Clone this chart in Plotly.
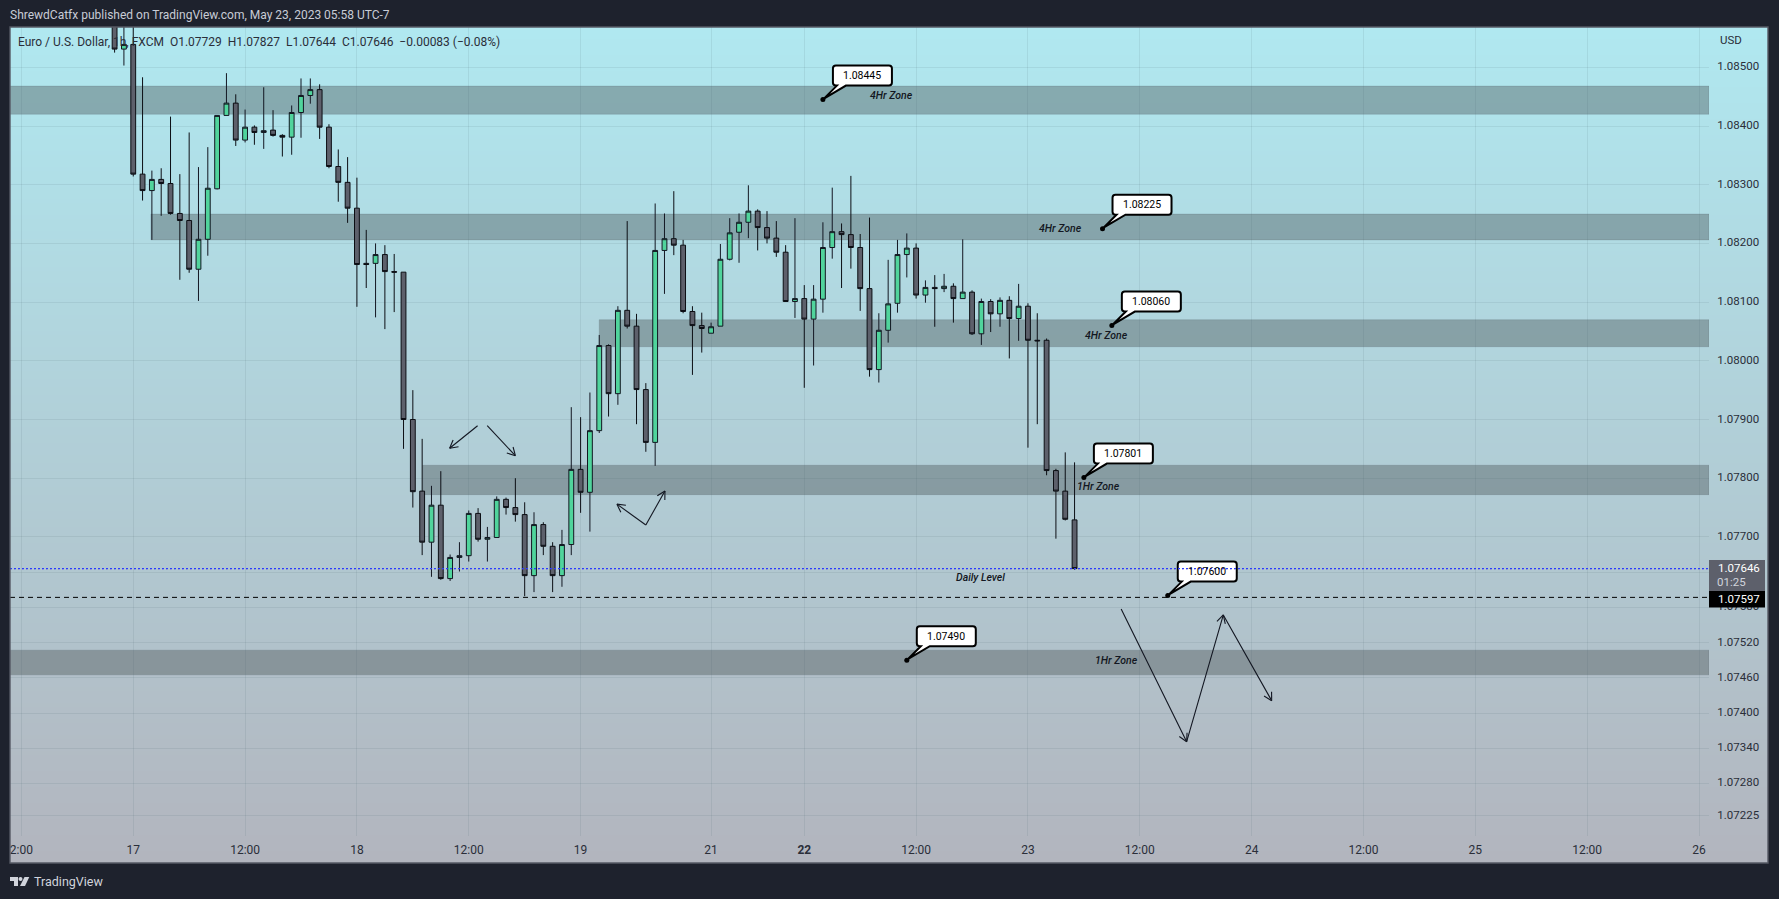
import math
import plotly.graph_objects as go

# ---------------- data (hourly EUR/USD bars) ----------------
bar_index = list(range(10, 114))
open_ = [1.08590,1.08531,1.08539,1.08318,1.08290,1.08309,1.08302,1.08251,1.08239,1.08156,1.08207,1.08293,1.08418,1.08439,1.08376,1.08398,1.08389,1.08393,1.08384,1.08381,
         1.08423,1.08452,1.08462,1.08398,1.08331,1.08304,1.08260,1.08166,1.08166,1.08181,1.08152,1.08151,1.07900,1.07778,1.07691,1.07754,1.07629,1.07665,1.07668,1.07740,
         1.07696,1.07699,1.07764,1.07750,1.07738,1.07634,1.07721,1.07684,1.07634,1.07687,1.07815,1.07776,1.07881,1.08026,1.07944,1.08086,1.08059,1.07951,1.07861,1.08188,
         1.08208,1.08197,1.08084,1.08060,1.08047,1.08059,1.08173,1.08219,1.08236,1.08255,1.08227,1.08209,1.08185,1.08101,1.08106,1.08071,1.08105,1.08193,1.08220,1.08215,
         1.08193,1.08123,1.07985,1.08052,1.08098,1.08181,1.08192,1.08112,1.08125,1.08123,1.08127,1.08106,1.08117,1.08046,1.08101,1.08080,1.08103,1.08072,1.08093,1.08035,
         1.08035,1.07813,1.07778,1.07729]
high = [1.08620,1.08590,1.08570,1.08483,1.08324,1.08328,1.08416,1.08318,1.08389,1.08330,1.08364,1.08418,1.08490,1.08454,1.08428,1.08401,1.08466,1.08427,1.08386,1.08435,
        1.08481,1.08481,1.08471,1.08403,1.08360,1.08347,1.08312,1.08223,1.08200,1.08197,1.08182,1.08151,1.07950,1.07867,1.07787,1.07812,1.07670,1.07691,1.07745,1.07749,
        1.07717,1.07769,1.07767,1.07800,1.07759,1.07742,1.07725,1.07691,1.07712,1.07921,1.07904,1.07946,1.08044,1.08028,1.08093,1.08238,1.08080,1.07962,1.08268,1.08251,
        1.08289,1.08206,1.08093,1.08082,1.08065,1.08199,1.08243,1.08251,1.08299,1.08258,1.08255,1.08238,1.08197,1.08243,1.08129,1.08129,1.08236,1.08295,1.08234,1.08315,
        1.08216,1.08244,1.08081,1.08172,1.08206,1.08217,1.08200,1.08137,1.08146,1.08148,1.08132,1.08207,1.08120,1.08106,1.08105,1.08108,1.08110,1.08131,1.08098,1.08081,
        1.08038,1.07816,1.07844,1.07827]
low = [1.08525,1.08503,1.08314,1.08273,1.08206,1.08247,1.08249,1.08138,1.08150,1.08102,1.08179,1.08292,1.08418,1.08366,1.08372,1.08368,1.08361,1.08382,1.08348,1.08351,
       1.08380,1.08438,1.08378,1.08328,1.08271,1.08235,1.08092,1.08124,1.08074,1.08054,1.08083,1.07850,1.07750,1.07669,1.07632,1.07627,1.07625,1.07641,1.07658,1.07692,
       1.07658,1.07699,1.07738,1.07726,1.07599,1.07606,1.07669,1.07606,1.07615,1.07669,1.07741,1.07709,1.07877,1.07905,1.07925,1.08055,1.07892,1.07845,1.07821,1.08114,
       1.08180,1.08081,1.07976,1.08014,1.08047,1.08059,1.08171,1.08167,1.08209,1.08188,1.08200,1.08177,1.08101,1.08073,1.07954,1.07992,1.08082,1.08174,1.08124,1.08157,
       1.08085,1.07973,1.07963,1.08031,1.08082,1.08142,1.08106,1.08099,1.08058,1.08117,1.08065,1.08106,1.08044,1.08027,1.08049,1.08058,1.08004,1.08034,1.07852,1.07892,
       1.07805,1.07697,1.07728,1.07644]
close = [1.08531,1.08539,1.08318,1.08290,1.08309,1.08302,1.08251,1.08239,1.08156,1.08207,1.08294,1.08418,1.08439,1.08376,1.08398,1.08389,1.08392,1.08384,1.08381,1.08423,
         1.08452,1.08462,1.08398,1.08331,1.08304,1.08260,1.08164,1.08164,1.08181,1.08152,1.08151,1.07900,1.07777,1.07691,1.07754,1.07629,1.07665,1.07668,1.07740,1.07696,
         1.07699,1.07764,1.07750,1.07738,1.07634,1.07721,1.07684,1.07634,1.07687,1.07815,1.07776,1.07881,1.08026,1.07944,1.08086,1.08059,1.07951,1.07861,1.08188,1.08208,
         1.08197,1.08084,1.08060,1.08055,1.08058,1.08173,1.08218,1.08236,1.08255,1.08227,1.08209,1.08185,1.08101,1.08106,1.08071,1.08105,1.08193,1.08220,1.08215,1.08193,
         1.08123,1.07985,1.08052,1.08097,1.08181,1.08192,1.08112,1.08125,1.08123,1.08127,1.08106,1.08117,1.08046,1.08101,1.08080,1.08103,1.08072,1.08093,1.08035,1.08034,
         1.07813,1.07778,1.07730,1.07646]

time_ticks = [0, 12, 24, 36, 48, 60, 74, 84, 96, 108, 120, 132, 144, 156, 168, 180]
time_labels = ["2:00", "17", "12:00", "18", "12:00", "19", "21", "<b>22</b>", "12:00", "23", "12:00", "24", "12:00", "25", "12:00", "26"]
price_ticks = [1.085, 1.084, 1.083, 1.082, 1.081, 1.080, 1.079, 1.078, 1.077, 1.0764, 1.0758, 1.0752, 1.0746, 1.0740, 1.0734, 1.0728, 1.07225]

zone_start = [-2, 13.9, 62.0, 43.05, -2]
zone_top = [1.08468, 1.08250, 1.08070, 1.07822, 1.07507]
zone_bottom = [1.08420, 1.08206, 1.08024, 1.07772, 1.07465]

zone_text = ["4Hr Zone", "4Hr Zone", "4Hr Zone", "1Hr Zone", "Daily Level", "1Hr Zone"]
zone_text_x = [93.4, 111.44, 116.48, 115.62, 102.96, 117.5]
zone_text_y = [1.084523, 1.082257, 1.080428, 1.077855, 1.076305, 1.074891]

callout_text = ["1.08445", "1.08225", "1.08060", "1.07801", "1.07600", "1.07490"]
callout_x = [86, 116, 117, 114, 123, 95]
callout_y = [1.08445, 1.08225, 1.08060, 1.07801, 1.07600, 1.07490]

arrow_paths = [
    ([48.95, 45.95], [1.078894, 1.07851]),
    ([49.98, 53.0], [1.078894, 1.078383]),
    ([67.0, 63.9], [1.077203, 1.077558]),
    ([67.0, 69.05], [1.077203, 1.077782]),
    ([118.0, 125.03, 128.96, 134.15], [1.075772, 1.073511, 1.07567, 1.07421]),
]
last_price = 1.07646
level_price = 1.07597

# ---------------- geometry ----------------
W, H = 1779, 899
L, R, T, B = 10, 70, 27, 63
BAR_PX = 9.32
PRICE_PX = 58700.0
x_range = [(L - 21.4) / BAR_PX, (W - R - 21.4) / BAR_PX]
y_range = [1.085 - (H - B - 67.3) / PRICE_PX, 1.085 - (T - 67.3) / PRICE_PX]

def PX(px):
    return (px - L) / (W - L - R)

def PY(py):
    return (H - B - py) / (H - T - B)

INK = "#131722"
TXT = "#2a2e39"
DARK = "#1e222d"
FONT = "Roboto"
shapes, notes = [], []

# gradient pane background
STRIPS = 209
c0, c1 = (176, 232, 240), (178, 181, 190)
for i in range(STRIPS):
    f = i / (STRIPS - 1)
    col = tuple(round(a + (b - a) * f) for a, b in zip(c0, c1))
    y0 = 27 + (863 - 27) * i / STRIPS
    y1 = 27 + (863 - 27) * (i + 1) / STRIPS + 1
    shapes.append(dict(type="rect", xref="paper", yref="paper", layer="below",
                       x0=PX(10), x1=PX(1768), y0=PY(min(y1, 863)), y1=PY(y0),
                       fillcolor="rgb(%d,%d,%d)" % col, line=dict(width=0)))

# zones
for xs, top, bot in zip(zone_start, zone_top, zone_bottom):
    shapes.append(dict(type="rect", xref="x", yref="y", layer="below",
                       x0=xs, x1=x_range[1], y0=bot, y1=top,
                       fillcolor="rgba(73,82,84,0.40)",
                       line=dict(color="rgba(70,85,90,0.18)", width=1)))

# callout boxes
for cx, cy in zip(callout_x, callout_y):
    shapes.append(dict(type="path", layer="above", xref="x", yref="y",
                       xsizemode="pixel", ysizemode="pixel", xanchor=cx, yanchor=cy,
                       path="M 13 14 L 14 14 L 1 1 L 23 14 L 66 14 Q 69 14 69 17 L 69 31 Q 69 34 66 34 "
                            "L 13 34 Q 10 34 10 31 L 10 17 Q 10 14 13 14 Z",
                       fillcolor="#ffffff", line=dict(color="#000000", width=2)))

# price lines
shapes.append(dict(type="line", layer="above", xref="x", yref="y", x0=x_range[0], x1=x_range[1],
                   y0=last_price, y1=last_price, line=dict(color="rgba(240,70,90,0.75)", width=1.3, dash="1px,3px")))
shapes.append(dict(type="line", layer="above", xref="x", yref="y", x0=x_range[0], x1=x_range[1],
                   y0=last_price, y1=last_price, line=dict(color="#2b3cff", width=1.3, dash="2px,2px")))
shapes.append(dict(type="line", layer="above", xref="x", yref="y", x0=x_range[0], x1=x_range[1],
                   y0=level_price, y1=level_price, line=dict(color="#000000", width=1, dash="5px,4px")))

# price tags
shapes.append(dict(type="rect", layer="above", xref="paper", yref="paper",
                   x0=PX(1709), x1=PX(1765), y0=PY(591), y1=PY(560), fillcolor="#5d606b", line=dict(width=0)))
shapes.append(dict(type="rect", layer="above", xref="paper", yref="paper",
                   x0=PX(1709), x1=PX(1765), y0=PY(607.5), y1=PY(591), fillcolor="#000000", line=dict(width=0)))

# pane border
shapes.append(dict(type="rect", layer="above", xref="paper", yref="paper",
                   x0=PX(10), x1=PX(1768), y0=PY(863), y1=PY(27), fillcolor="rgba(0,0,0,0)",
                   line=dict(color="#565964", width=1.4)))

# footer logo
shapes.append(dict(type="path", layer="above", xref="paper", yref="paper",
                   path="M {} {} L {} {} L {} {} L {} {} L {} {} L {} {} Z".format(
                       PX(10), PY(877), PX(18), PY(877), PX(18), PY(886), PX(14), PY(886), PX(14), PY(881), PX(10), PY(881)),
                   fillcolor="#d1d4dc", line=dict(width=0)))
shapes.append(dict(type="circle", layer="above", xref="paper", yref="paper",
                   x0=PX(18.5), x1=PX(22.5), y0=PY(881), y1=PY(877), fillcolor="#d1d4dc", line=dict(width=0)))
shapes.append(dict(type="path", layer="above", xref="paper", yref="paper",
                   path="M {} {} L {} {} L {} {} L {} {} Z".format(
                       PX(24.5), PY(877), PX(29.3), PY(877), PX(25), PY(886), PX(20), PY(886)),
                   fillcolor="#d1d4dc", line=dict(width=0)))

def paper_text(px, py, text, size, color, anchor="left", **kw):
    notes.append(dict(xref="paper", yref="paper", x=PX(px), y=PY(py), text=text, showarrow=False,
                      xanchor=anchor, yanchor="middle", font=dict(family=FONT, size=size, color=color), borderpad=0, **kw))

paper_text(9, 15, "ShrewdCatfx published on TradingView.com, May 23, 2023 05:58 UTC-7", 12, "#c8ccd6")
paper_text(17, 41.5, "Euro / U.S. Dollar, 1h, FXCM&nbsp;&nbsp;O1.07729&nbsp;&nbsp;H1.07827&nbsp;&nbsp;L1.07644&nbsp;&nbsp;C1.07646&nbsp;&nbsp;\u22120.00083 (\u22120.08%)", 12, TXT)
paper_text(1719, 40, "USD", 11.5, TXT)
paper_text(1716.5, 568.5, "1.07646", 11.5, "#ffffff")
paper_text(1716, 582.5, "01:25", 11.5, "#d1d4dc")
paper_text(1716.5, 599, "1.07597", 11.5, "#ffffff")
paper_text(32.5, 881, "TradingView", 12.5, "#d1d4dc")

for txt, zx, zy in zip(zone_text, zone_text_x, zone_text_y):
    notes.append(dict(x=zx, y=zy, xref="x", yref="y", text="<i>" + txt + "</i>", showarrow=False,
                      xanchor="center", yanchor="middle", font=dict(family=FONT, size=10.5, color=INK, weight=500)))
for txt, cx, cy in zip(callout_text, callout_x, callout_y):
    notes.append(dict(x=cx, y=cy, xref="x", yref="y", text=txt, showarrow=False, xshift=39.5, yshift=24,
                      xanchor="center", yanchor="middle", font=dict(family=FONT, size=10.5, color="#000000")))

# arrows
def heads(xs, ys, size=9.0, spread=0.5):
    hx, hy = [], []
    for j in range(1, len(xs)):
        dx = (xs[j] - xs[j - 1]) * BAR_PX
        dy = (ys[j] - ys[j - 1]) * PRICE_PX
        n = math.hypot(dx, dy)
        ux, uy = dx / n, dy / n
        for s in (1, -1):
            c, t = math.cos(spread), math.sin(spread) * s
            bx = ux * c - uy * t
            by = ux * t + uy * c
            hx += [xs[j] - bx * size / BAR_PX, xs[j], None]
            hy += [ys[j] - by * size / PRICE_PX, ys[j], None]
    return hx, hy

fig = go.Figure()
for xs, ys in arrow_paths:
    fig.add_trace(go.Scatter(x=xs, y=ys, mode="lines", line=dict(color=INK, width=1.1), hoverinfo="skip", showlegend=False))

fig.add_trace(go.Candlestick(
    x=bar_index, open=open_, high=high, low=low, close=close, whiskerwidth=0,
    increasing=dict(fillcolor="#50d49c", line=dict(color=INK, width=1)),
    decreasing=dict(fillcolor="#5d606b", line=dict(color="#0c0e14", width=1)),
    showlegend=False, hoverinfo="skip"))

hx, hy = [], []
for xs, ys in arrow_paths:
    a, b = heads(xs, ys)
    hx += a
    hy += b
fig.add_trace(go.Scatter(x=hx, y=hy, mode="lines", line=dict(color=INK, width=1.1), hoverinfo="skip", showlegend=False))
fig.add_trace(go.Scatter(x=callout_x, y=callout_y, mode="markers", marker=dict(color="#000000", size=5),
                         hoverinfo="skip", showlegend=False))

grid = "rgba(60,90,100,0.10)"
fig.update_layout(
    width=W, height=H, autosize=False,
    margin=dict(l=L, r=R, t=T, b=B, pad=0),
    paper_bgcolor=DARK, plot_bgcolor="rgba(0,0,0,0)",
    showlegend=False, boxgap=0.26, shapes=shapes, annotations=notes,
    xaxis=dict(range=x_range, tickmode="array", tickvals=time_ticks, ticktext=time_labels,
               showgrid=True, gridcolor=grid, gridwidth=1, zeroline=False, showline=False,
               ticks="outside", ticklen=3, tickcolor="rgba(0,0,0,0)", rangeslider=dict(visible=False),
               tickfont=dict(family=FONT, size=12, color=TXT)),
    yaxis=dict(range=y_range, side="right", tickmode="array", tickvals=price_ticks,
               ticktext=["%.5f" % v for v in price_ticks],
               showgrid=True, gridcolor=grid, gridwidth=1, zeroline=False, showline=False,
               ticks="outside", ticklen=5, tickcolor="rgba(0,0,0,0)", ticklabelshift=-1,
               tickfont=dict(family=FONT, size=11.5, color=TXT)),
)

fig.write_html("out.html", config=dict(displayModeBar=False),
               post_script="document.body.style.margin='0';document.body.style.overflow='hidden';")
